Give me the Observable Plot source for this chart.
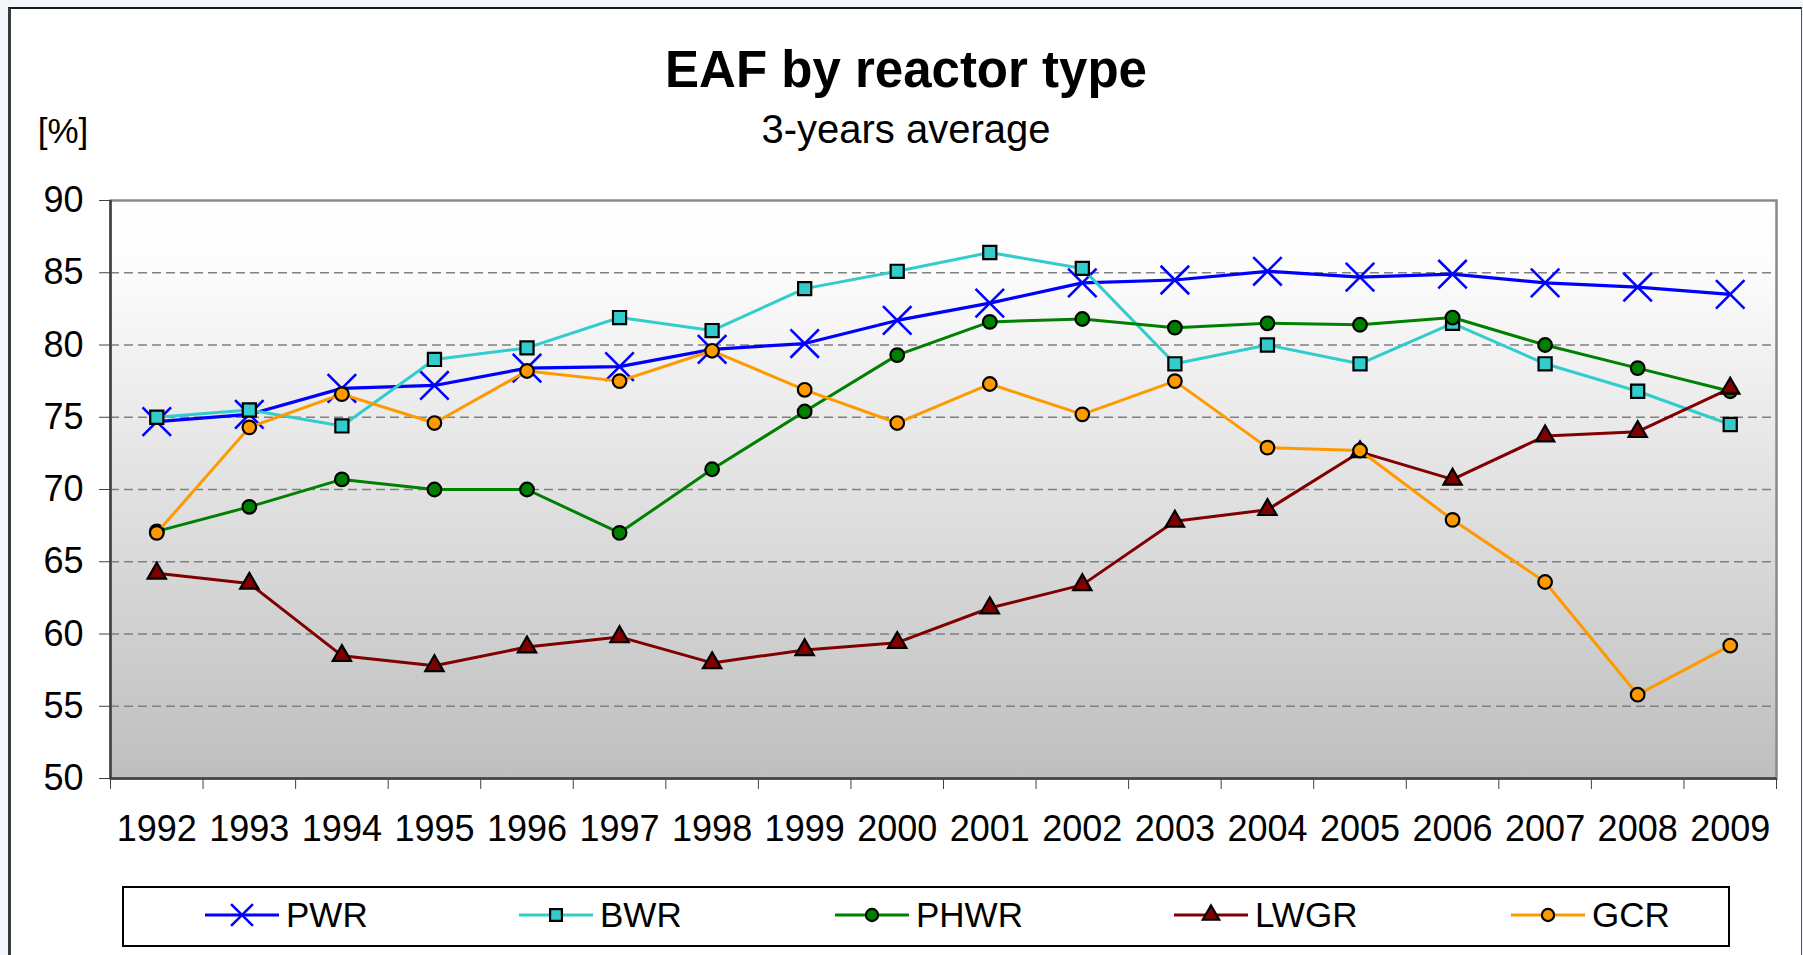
<!DOCTYPE html>
<html>
<head>
<meta charset="utf-8">
<script src="https://cdn.jsdelivr.net/npm/d3@7"></script>
<script src="https://cdn.jsdelivr.net/npm/@observablehq/plot@0.6"></script>
<style>
  html, body { margin: 0; padding: 0; width: 1803px; height: 955px; overflow: hidden; background: #f3f6fb; }
  #frame { position: absolute; left: 8px; top: 7px; width: 1790px; height: 1000px; background: #ffffff;
           border-left: 3px solid #3a3a3a; border-top: 2px solid #1a1a1a; border-right: 1px solid #555; }
  .abs { position: absolute; left: 0; }
  text { font-family: "Liberation Sans", Arial, sans-serif; }
</style>
</head>
<body>
<div id="frame"></div>
<svg id="header" class="abs" style="top:0" width="1803" height="160"></svg>
<div id="chart" class="abs" style="top:160px"></div>
<svg id="legend" class="abs" style="top:870px" width="1803" height="85"></svg>
<script>
// ---- data ----
const years = [1992, 1993, 1994, 1995, 1996, 1997, 1998, 1999, 2000, 2001, 2002, 2003, 2004, 2005, 2006, 2007, 2008, 2009];
const seriesNames = ["PWR", "BWR", "PHWR", "LWGR", "GCR"];
const pwr  = [74.7, 75.2, 77.0, 77.2, 78.4, 78.5, 79.7, 80.1, 81.7, 82.9, 84.3, 84.5, 85.1, 84.7, 84.9, 84.3, 84.0, 83.5];
const bwr  = [75.0, 75.5, 74.4, 79.0, 79.8, 81.9, 81.0, 83.9, 85.1, 86.4, 85.3, 78.7, 80.0, 78.7, 81.5, 78.7, 76.8, 74.5];
const phwr = [67.1, 68.8, 70.7, 70.0, 70.0, 67.0, 71.4, 75.4, 79.3, 81.6, 81.8, 81.2, 81.5, 81.4, 81.9, 80.0, 78.4, 76.8];
const lwgr = [64.2, 63.5, 58.5, 57.8, 59.1, 59.8, 58.0, 58.9, 59.4, 61.8, 63.4, 67.8, 68.6, 72.6, 70.7, 73.7, 74.0, 77.0];
const gcr  = [67.0, 74.3, 76.6, 74.6, 78.2, 77.5, 79.6, 76.9, 74.6, 77.3, 75.2, 77.5, 72.9, 72.7, 67.9, 63.6, 55.8, 59.2];
const yTicks = [50, 55, 60, 65, 70, 75, 80, 85, 90];
const title = "EAF by reactor type";
const subtitle = "3-years average";
const unitLabel = "[%]";

// ---- styles ----
const styles = {
  PWR:  {color: "#0000ff", symbol: "times",    r: 13,  lineWidth: 3.2, fill: "none",    stroke: "#0000ff", sw: 2.6},
  BWR:  {color: "#33cccc", symbol: "square",   r: 7.4, lineWidth: 3,   fill: "#33cccc", stroke: "#000",    sw: 2.2},
  PHWR: {color: "#008000", symbol: "circle",   r: 6.8, lineWidth: 3,   fill: "#008000", stroke: "#000",    sw: 2.2},
  LWGR: {color: "#800000", symbol: "triangle", r: 6.8, lineWidth: 3,   fill: "#800000", stroke: "#000",    sw: 2.2},
  GCR:  {color: "#ff9900", symbol: "circle",   r: 6.8, lineWidth: 3,   fill: "#ff9900", stroke: "#000",    sw: 2.2}
};
const seriesValues = {PWR: pwr, BWR: bwr, PHWR: phwr, LWGR: lwgr, GCR: gcr};
const table = seriesNames.map(name => years.map((year, i) => ({series: name, year, value: seriesValues[name][i]})));

const bounds = years.map(y => y - 0.5).concat([years[years.length - 1] + 0.5]);
const font = '"Liberation Sans", Arial, sans-serif';

// ---- header ----
const header = d3.select("#header");
header.append("text").attr("x", 906).attr("y", 87).attr("text-anchor", "middle")
  .attr("font-size", 51).attr("font-weight", "bold").attr("fill", "#000").text(title);
header.append("text").attr("x", 906).attr("y", 143).attr("text-anchor", "middle")
  .attr("font-size", 40).attr("fill", "#000").text(subtitle);
header.append("text").attr("x", 63).attr("y", 143).attr("text-anchor", "middle")
  .attr("font-size", 35).attr("fill", "#000").text(unitLabel);

// ---- chart ----
const marks = [
  Plot.frame({fill: "url(#eafBg)", stroke: null}),
  Plot.ruleY(yTicks.filter(v => v > 50 && v < 90), {stroke: "#808080", strokeWidth: 1.3, strokeDasharray: "9,5"}),
  Plot.frame({stroke: "#8a8a8a", strokeWidth: 2.5}),
  Plot.ruleX([bounds[0]], {stroke: "#404040", strokeWidth: 2.5}),
  Plot.ruleY([50], {stroke: "#404040", strokeWidth: 2.5}),
  Plot.axisY({ticks: yTicks, tickSize: 11, tickPadding: 16, label: null, fontSize: 36, stroke: "#404040"}),
  Plot.axisX({ticks: years, tickSize: 0, tickPadding: 37, tickFormat: d => String(d), label: null, fontSize: 36}),
  Plot.axisX({ticks: bounds, tickSize: 11, tickFormat: () => "", label: null, stroke: "#404040"})
];
seriesNames.forEach((name, k) => {
  const s = styles[name];
  marks.push(Plot.line(table[k], {x: "year", y: "value", stroke: s.color, strokeWidth: s.lineWidth}));
  marks.push(Plot.dot(table[k], {x: "year", y: "value", symbol: () => s.symbol, r: s.r,
    fill: s.fill, stroke: s.stroke, strokeWidth: s.sw}));
});

const chart = Plot.plot({
  width: 1803, height: 720,
  marginTop: 40, marginLeft: 110, marginRight: 27, marginBottom: 102,
  x: {domain: [bounds[0], bounds[bounds.length - 1]]},
  y: {domain: [50, 90]},
  symbol: {type: "identity"},
  style: {fontFamily: font, fontSize: "36px", color: "#000", background: "transparent", overflow: "visible"},
  marks
});
const defs = d3.select(chart).insert("defs", ":first-child");
const grad = defs.append("linearGradient").attr("id", "eafBg").attr("x1", 0).attr("y1", 0).attr("x2", 0).attr("y2", 1);
grad.append("stop").attr("offset", "0%").attr("stop-color", "#ffffff");
grad.append("stop").attr("offset", "12%").attr("stop-color", "#fcfcfc");
grad.append("stop").attr("offset", "100%").attr("stop-color", "#bebebe");
document.getElementById("chart").appendChild(chart);

// ---- legend ----
const legend = d3.select("#legend");
legend.append("rect").attr("x", 123).attr("y", 17).attr("width", 1606).attr("height", 59)
  .attr("fill", "#fff").attr("stroke", "#000").attr("stroke-width", 2);
const legendX = {PWR: 205, BWR: 519, PHWR: 835, LWGR: 1174, GCR: 1511};
const symbolTypes = {times: d3.symbolTimes, square: d3.symbolSquare, circle: d3.symbolCircle, triangle: d3.symbolTriangle};
seriesNames.forEach(name => {
  const s = styles[name];
  const x0 = legendX[name];
  const g = legend.append("g");
  g.append("line").attr("x1", x0).attr("x2", x0 + 74).attr("y1", 45).attr("y2", 45)
    .attr("stroke", s.color).attr("stroke-width", s.lineWidth);
  const rr = name === "PWR" ? 10 : s.r * 0.9;
  g.append("path").attr("transform", `translate(${x0 + 37},45)`)
    .attr("d", d3.symbol().type(symbolTypes[s.symbol]).size(Math.PI * rr * rr)())
    .attr("fill", s.fill).attr("stroke", s.stroke).attr("stroke-width", s.sw);
  g.append("text").attr("x", x0 + 81).attr("y", 57).attr("font-size", 35).attr("fill", "#000").text(name);
});
</script>
</body>
</html>
